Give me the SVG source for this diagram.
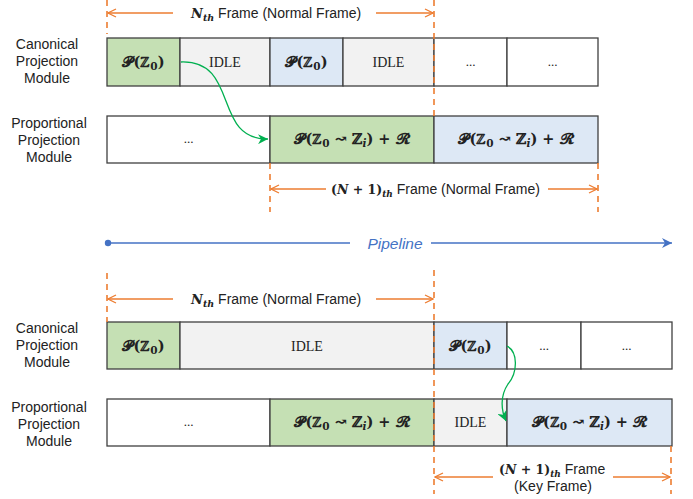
<svg xmlns="http://www.w3.org/2000/svg" width="693" height="499" viewBox="0 0 693 499">
<style>
.lbl{font-family:"Liberation Sans",Arial,sans-serif;font-size:14px;fill:#222;text-anchor:middle}
.ftx{font-family:"Liberation Sans",Arial,sans-serif;font-size:14px;fill:#222}
.m{font-family:"DejaVu Serif","Liberation Serif",serif;font-size:14.5px;font-weight:bold;fill:#222;text-anchor:middle}
.mi{font-family:"DejaVu Serif","Liberation Serif",serif;font-weight:bold;font-style:italic;fill:#222}
.idle{font-family:"Liberation Serif","Times New Roman",serif;font-size:14px;fill:#222;text-anchor:middle}
.dots{font-family:"Liberation Serif",serif;font-size:13px;fill:#222;text-anchor:middle}
.sub{font-size:10.5px}
.c{stroke:#404040;stroke-width:1.3}
.g{fill:#c5e0b4}.b{fill:#dde8f5}.gr{fill:#f2f2f2}.w{fill:#fff}
.dash{stroke:#ed7d31;stroke-width:1.6;stroke-dasharray:6 5;fill:none}
.oa{stroke:#ed7d31;stroke-width:1.3;fill:none}
.ga{stroke:#00b050;stroke-width:1.3;fill:none}
</style>
<defs>
<marker id="oarr" markerWidth="10" markerHeight="10" refX="9" refY="5" orient="auto" markerUnits="userSpaceOnUse">
<path d="M1,1 L9,5 L1,9" fill="none" stroke="#ed7d31" stroke-width="1.3"/>
</marker>
<marker id="garr" markerWidth="12" markerHeight="10" refX="10" refY="5" orient="auto" markerUnits="userSpaceOnUse">
<path d="M0,0 L10,5 L0,10 L3,5 Z" fill="#00b050"/>
</marker>
<marker id="barr" markerWidth="12" markerHeight="10" refX="10" refY="5" orient="auto" markerUnits="userSpaceOnUse">
<path d="M0,0 L10,5 L0,10 L3,5 Z" fill="#4472c4"/>
</marker>
</defs>

<!-- Row labels -->
<g id="labels">
<text class="lbl" x="47" y="49">Canonical</text>
<text class="lbl" x="47" y="66">Projection</text>
<text class="lbl" x="47" y="83">Module</text>
<text class="lbl" x="49" y="128">Proportional</text>
<text class="lbl" x="49" y="145">Projection</text>
<text class="lbl" x="49" y="162">Module</text>
<text class="lbl" x="47" y="333">Canonical</text>
<text class="lbl" x="47" y="350">Projection</text>
<text class="lbl" x="47" y="367">Module</text>
<text class="lbl" x="49" y="412">Proportional</text>
<text class="lbl" x="49" y="429">Projection</text>
<text class="lbl" x="49" y="446">Module</text>
</g>

<!-- Top section: canonical row -->
<g id="top-canonical">
<rect class="c g" x="107" y="38" width="73" height="48"/>
<rect class="c gr" x="180" y="38" width="90" height="48"/>
<rect class="c b" x="270" y="38" width="73" height="48"/>
<rect class="c gr" x="343" y="38" width="91" height="48"/>
<rect class="c w" x="434" y="38" width="73" height="48"/>
<rect class="c w" x="507" y="38" width="91" height="48"/>
<text class="m" x="143.5" y="67">𝓟(ℤ<tspan class="sub" dy="3">𝟎</tspan><tspan dy="-3">)</tspan></text>
<text class="idle" x="225" y="67">IDLE</text>
<text class="m" x="306.5" y="67">𝓟(ℤ<tspan class="sub" dy="3">𝟎</tspan><tspan dy="-3">)</tspan></text>
<text class="idle" x="388.5" y="67">IDLE</text>
<text class="dots" x="470.5" y="66">...</text>
<text class="dots" x="552.5" y="66">...</text>
</g>

<!-- Top section: proportional row -->
<g id="top-proportional">
<rect class="c w" x="107" y="116" width="163" height="47"/>
<rect class="c g" x="270" y="116" width="164" height="47"/>
<rect class="c b" x="434" y="116" width="164" height="47"/>
<text class="dots" x="188.5" y="143">...</text>
<text class="m" x="352" y="144">𝓟(ℤ<tspan class="sub" dy="3">𝟎</tspan><tspan dy="-3"> ↝ ℤ</tspan><tspan class="sub" font-style="italic" dy="3">i</tspan><tspan dy="-3">) + 𝓡</tspan></text>
<text class="m" x="516" y="144">𝓟(ℤ<tspan class="sub" dy="3">𝟎</tspan><tspan dy="-3"> ↝ ℤ</tspan><tspan class="sub" font-style="italic" dy="3">i</tspan><tspan dy="-3">) + 𝓡</tspan></text>
</g>

<!-- Bottom section: canonical row -->
<g id="bottom-canonical">
<rect class="c g" x="107" y="322" width="73" height="47"/>
<rect class="c gr" x="180" y="322" width="254" height="47"/>
<rect class="c b" x="434" y="322" width="73" height="47"/>
<rect class="c w" x="507" y="322" width="74" height="47"/>
<rect class="c w" x="581" y="322" width="91" height="47"/>
<text class="m" x="143.5" y="351">𝓟(ℤ<tspan class="sub" dy="3">𝟎</tspan><tspan dy="-3">)</tspan></text>
<text class="idle" x="307" y="351">IDLE</text>
<text class="m" x="470.5" y="351">𝓟(ℤ<tspan class="sub" dy="3">𝟎</tspan><tspan dy="-3">)</tspan></text>
<text class="dots" x="544" y="350">...</text>
<text class="dots" x="626.5" y="350">...</text>
</g>

<!-- Bottom section: proportional row -->
<g id="bottom-proportional">
<rect class="c w" x="107" y="399" width="163" height="47"/>
<rect class="c g" x="270" y="399" width="164" height="47"/>
<rect class="c gr" x="434" y="399" width="73" height="47"/>
<rect class="c b" x="507" y="399" width="165" height="47"/>
<text class="dots" x="188.5" y="426">...</text>
<text class="m" x="352" y="427">𝓟(ℤ<tspan class="sub" dy="3">𝟎</tspan><tspan dy="-3"> ↝ ℤ</tspan><tspan class="sub" font-style="italic" dy="3">i</tspan><tspan dy="-3">) + 𝓡</tspan></text>
<text class="idle" x="470.5" y="427">IDLE</text>
<text class="m" x="589.5" y="427">𝓟(ℤ<tspan class="sub" dy="3">𝟎</tspan><tspan dy="-3"> ↝ ℤ</tspan><tspan class="sub" font-style="italic" dy="3">i</tspan><tspan dy="-3">) + 𝓡</tspan></text>
</g>

<!-- Frame annotations -->
<g id="frame-top-n">
<line class="dash" x1="107" y1="0" x2="107" y2="34"/>
<line class="dash" x1="434" y1="0" x2="434" y2="116"/>
<line class="oa" x1="173" y1="13" x2="108" y2="13" marker-end="url(#oarr)"/>
<line class="oa" x1="376" y1="13" x2="433" y2="13" marker-end="url(#oarr)"/>
<text class="ftx" x="191" y="18"><tspan class="mi" style="font-size:13px">N</tspan><tspan class="mi" style="font-size:9.5px" dy="3">th</tspan><tspan dy="-3"> Frame (Normal Frame)</tspan></text>
</g>
<g id="frame-top-n1">
<line class="dash" x1="270" y1="163" x2="270" y2="212"/>
<line class="dash" x1="598" y1="163" x2="598" y2="212"/>
<line class="oa" x1="326" y1="189" x2="271" y2="189" marker-end="url(#oarr)"/>
<line class="oa" x1="548" y1="189" x2="597" y2="189" marker-end="url(#oarr)"/>
<text class="ftx" x="331" y="194"><tspan class="mi" style="font-size:12.5px;font-style:normal">(</tspan><tspan class="mi" style="font-size:12.5px">N</tspan><tspan class="mi" style="font-size:12.5px;font-style:normal"> + 1)</tspan><tspan class="mi" style="font-size:9px" dy="3">th</tspan><tspan dy="-3"> Frame (Normal Frame)</tspan></text>
</g>
<g id="frame-bottom-n">
<line class="dash" x1="107" y1="273" x2="107" y2="322"/>
<line class="dash" x1="434" y1="270" x2="434" y2="494"/>
<line class="oa" x1="173" y1="299" x2="108" y2="299" marker-end="url(#oarr)"/>
<line class="oa" x1="376" y1="299" x2="433" y2="299" marker-end="url(#oarr)"/>
<text class="ftx" x="191" y="304"><tspan class="mi" style="font-size:13px">N</tspan><tspan class="mi" style="font-size:9.5px" dy="3">th</tspan><tspan dy="-3"> Frame (Normal Frame)</tspan></text>
</g>
<g id="frame-bottom-key">
<line class="dash" x1="671" y1="446" x2="671" y2="494"/>
<line class="oa" x1="493" y1="477" x2="435" y2="477" marker-end="url(#oarr)"/>
<line class="oa" x1="613" y1="477" x2="670" y2="477" marker-end="url(#oarr)"/>
<text class="ftx" x="499" y="474"><tspan class="mi" style="font-size:12.5px;font-style:normal">(</tspan><tspan class="mi" style="font-size:12.5px">N</tspan><tspan class="mi" style="font-size:12.5px;font-style:normal"> + 1)</tspan><tspan class="mi" style="font-size:9px" dy="3">th</tspan><tspan dy="-3"> Frame</tspan></text>
<text class="lbl" x="553" y="491">(Key Frame)</text>
</g>

<!-- Pipeline -->
<g id="pipeline">
<circle cx="108" cy="243" r="3.2" fill="#4472c4"/>
<line x1="108" y1="243" x2="350" y2="243" stroke="#4472c4" stroke-width="1.3"/>
<line x1="431" y1="243" x2="672" y2="243" stroke="#4472c4" stroke-width="1.3" marker-end="url(#barr)"/>
<text x="395" y="248.5" font-family="Liberation Sans,Arial,sans-serif" font-size="15.5" font-style="italic" fill="#4472c4" text-anchor="middle">Pipeline</text>
</g>

<!-- Connectors -->
<g id="connectors">
<path class="ga" d="M181,62 C240,60 212,140 268,139" marker-end="url(#garr)"/>
<path class="ga" d="M507,346 C518,352 518,372 508,384 C500,396 501,410 506,421" marker-end="url(#garr)"/>
</g>
</svg>
